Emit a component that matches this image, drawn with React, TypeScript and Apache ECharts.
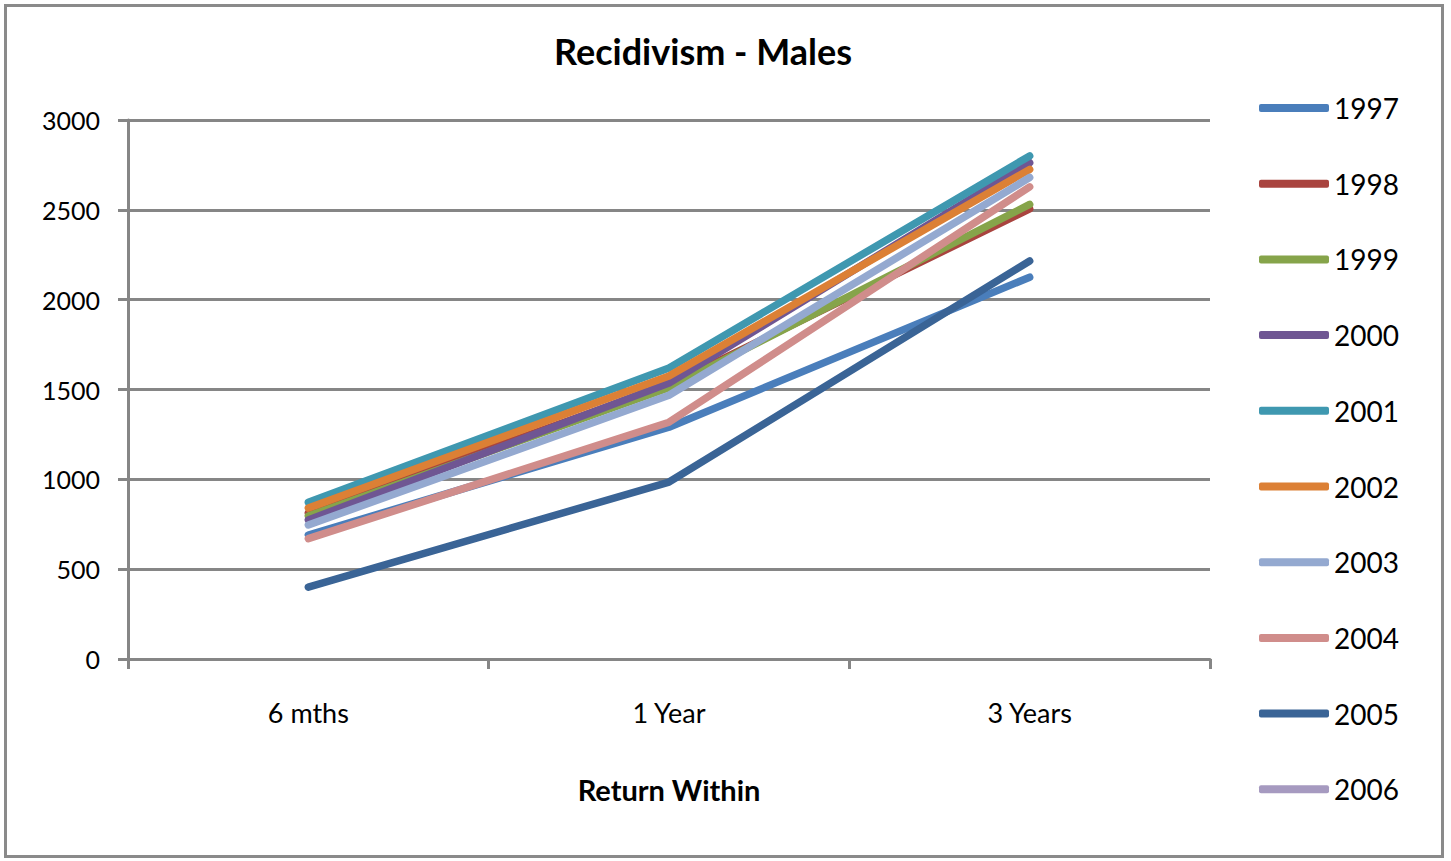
import React, { useEffect, useRef } from "react";
import * as echarts from "echarts";

const categories = ["6 mths", "1 Year", "3 Years"];
const years = ["1997", "1998", "1999", "2000", "2001", "2002", "2003", "2004", "2005", "2006"];
const v1997 = [690, 1290, 2125];
const v1998 = [812, 1525, 2505];
const v1999 = [796, 1510, 2530];
const v2000 = [774, 1536, 2762];
const v2001 = [872, 1620, 2800];
const v2002 = [840, 1575, 2725];
const v2003 = [746, 1468, 2680];
const v2004 = [670, 1318, 2628];
const v2005 = [400, 985, 2215];
const v2006: (number | null)[] = [null, null, null];
const yTicks = [0, 500, 1000, 1500, 2000, 2500, 3000];

const seriesValues = [v1997, v1998, v1999, v2000, v2001, v2002, v2003, v2004, v2005, v2006];
const colors = ["#4a7ebb", "#a9443f", "#86a44a", "#6f5693", "#3f98b0", "#dc8035", "#94a9d0", "#d08d8b", "#3a6496", "#a69ac0"];

const FONT = "Lato, 'Open Sans', sans-serif";

export default function App() {
  const ref = useRef<HTMLDivElement>(null);
  useEffect(() => {
    document.body.style.margin = "0";
    const chart = echarts.init(ref.current!, null, { renderer: "svg" });
    chart.setOption({
      animation: false,
      backgroundColor: "#ffffff",
      textStyle: { fontFamily: FONT },
      title: {
        text: "Recidivism - Males",
        left: 554,
        top: 33,
        padding: 0,
        textStyle: { fontSize: 36, fontWeight: "bold", color: "#000", fontFamily: FONT },
      },
      graphic: [
        {
          type: "rect",
          shape: { x: 5.5, y: 5.5, width: 1437, height: 851 },
          style: { fill: "none", stroke: "#8a8a8a", lineWidth: 3 },
          silent: true,
        },
      ],
      legend: {
        orient: "vertical",
        left: 1259,
        top: 94,
        padding: 0,
        itemWidth: 70,
        itemHeight: 8,
        itemGap: 47.7,
        icon: "roundRect",
        data: years,
        textStyle: { fontSize: 28, color: "#000", lineHeight: 28 },
      },
      grid: { left: 128, right: 241, top: 120, bottom: 202, containLabel: false },
      xAxis: {
        type: "category",
        data: categories,
        boundaryGap: true,
        axisLine: { lineStyle: { color: "#868686", width: 3 } },
        axisTick: { show: true, length: 10, lineStyle: { color: "#868686", width: 3 } },
        axisLabel: { color: "#000", fontSize: 27, margin: 40 },
        name: "Return Within",
        nameLocation: "middle",
        nameGap: 116,
        nameTextStyle: { color: "#000", fontSize: 29, fontWeight: "bold" },
      },
      yAxis: {
        type: "value",
        min: yTicks[0],
        max: yTicks[yTicks.length - 1],
        interval: 500,
        axisLine: { show: true, lineStyle: { color: "#868686", width: 3 } },
        axisTick: { show: true, length: 10, lineStyle: { color: "#868686", width: 3 } },
        splitLine: { show: true, lineStyle: { color: "#868686", width: 3 } },
        axisLabel: { color: "#000", fontSize: 25, margin: 28, formatter: (v: number) => String(v) },
      },
      series: years.map((y, i) => ({
        name: y,
        type: "line",
        data: seriesValues[i],
        symbol: "none",
        color: colors[i],
        lineStyle: { color: colors[i], width: 7.5, cap: "round", join: "round" },
        itemStyle: { color: colors[i] },
      })),
    });
    return () => chart.dispose();
  }, []);
  return <div ref={ref} style={{ width: 1451, height: 861 }} />;
}
